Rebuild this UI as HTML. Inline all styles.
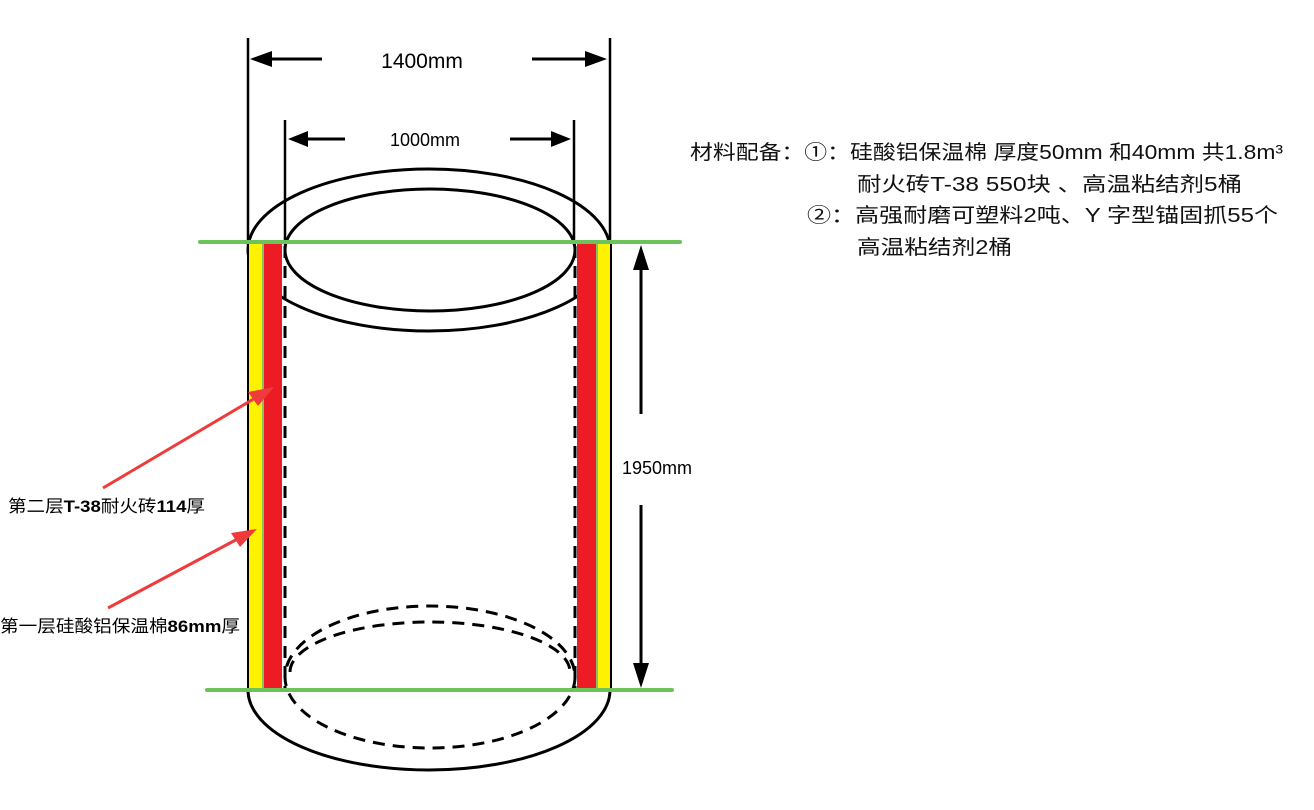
<!DOCTYPE html>
<html><head><meta charset="utf-8"><style>
html,body{margin:0;padding:0;background:#fff;}
svg{display:block;}
text{font-family:"Liberation Sans","Noto Sans CJK SC",sans-serif;}
</style></head><body>
<svg width="1314" height="810" viewBox="0 0 1314 810" xmlns="http://www.w3.org/2000/svg">
<rect width="1314" height="810" fill="#fff"/>
<!-- top ellipses -->
<ellipse cx="429" cy="250" rx="181" ry="81" fill="none" stroke="#000" stroke-width="3"/>
<ellipse cx="430" cy="250" rx="145" ry="61" fill="none" stroke="#000" stroke-width="3"/>
<!-- bottom ellipses -->
<path d="M248,690 A181,80 0 0 0 610,690" fill="none" stroke="#000" stroke-width="3"/>
<ellipse cx="430" cy="677" rx="145" ry="71" fill="none" stroke="#000" stroke-width="3" stroke-dasharray="12,8"/>
<path d="M290,672 A140,50 0 0 1 570,672" fill="none" stroke="#000" stroke-width="3" stroke-dasharray="12,8"/>
<!-- vertical extension lines -->
<line x1="248" y1="38" x2="248" y2="245" stroke="#000" stroke-width="2.5"/>
<line x1="610" y1="38" x2="610" y2="245" stroke="#000" stroke-width="2.5"/>
<line x1="285" y1="120" x2="285" y2="245" stroke="#000" stroke-width="2.5"/>
<line x1="574" y1="120" x2="574" y2="245" stroke="#000" stroke-width="2.5"/>
<!-- walls -->
<rect x="247" y="242" width="2.5" height="448" fill="#000"/>
<rect x="249" y="242" width="13" height="448" fill="#fff200"/>
<rect x="262" y="242" width="2" height="448" fill="#8dc060"/>
<rect x="264" y="242" width="18" height="448" fill="#ed1c24"/>
<rect x="577" y="242" width="19" height="448" fill="#ed1c24"/>
<rect x="596" y="242" width="2" height="448" fill="#8dc060"/>
<rect x="598" y="242" width="12" height="448" fill="#fff200"/>
<rect x="610" y="242" width="2" height="448" fill="#000"/>
<line x1="285" y1="246" x2="285" y2="690" stroke="#000" stroke-width="3" stroke-dasharray="12,8"/>
<line x1="575" y1="246" x2="575" y2="690" stroke="#000" stroke-width="3" stroke-dasharray="12,8"/>
<!-- green lines -->
<line x1="200" y1="242" x2="680" y2="242" stroke="#6cc35c" stroke-width="4" stroke-linecap="round"/>
<line x1="207" y1="690" x2="672" y2="690" stroke="#6cc35c" stroke-width="4" stroke-linecap="round"/>
<!-- 1400 dim -->
<line x1="265" y1="59" x2="322" y2="59" stroke="#000" stroke-width="3"/>
<polygon points="250,59 272,51 272,67" fill="#000"/>
<line x1="532" y1="59" x2="592" y2="59" stroke="#000" stroke-width="3"/>
<polygon points="607,59 585,51 585,67" fill="#000"/>
<text x="422" y="68" font-size="21" text-anchor="middle">1400mm</text>
<!-- 1000 dim -->
<line x1="300" y1="139" x2="345" y2="139" stroke="#000" stroke-width="3"/>
<polygon points="288,139 308,131 308,147" fill="#000"/>
<line x1="510" y1="139" x2="558" y2="139" stroke="#000" stroke-width="3"/>
<polygon points="571,139 551,131 551,147" fill="#000"/>
<text x="425" y="146" font-size="18" text-anchor="middle">1000mm</text>
<!-- 1950 dim -->
<line x1="641" y1="262" x2="641" y2="414" stroke="#000" stroke-width="3"/>
<polygon points="641,245 633,270 649,270" fill="#000"/>
<line x1="641" y1="505" x2="641" y2="672" stroke="#000" stroke-width="3"/>
<polygon points="641,688 633,663 649,663" fill="#000"/>
<text x="657" y="474" font-size="18" text-anchor="middle">1950mm</text>
<!-- red arrows -->
<line x1="103" y1="488" x2="262" y2="394" stroke="#ef3b3b" stroke-width="3"/>
<polygon points="274,387 248,392 258,406" fill="#ef3b3b"/>
<line x1="108" y1="608" x2="245" y2="535" stroke="#ef3b3b" stroke-width="3"/>
<polygon points="257,529 231,533 240,547" fill="#ef3b3b"/>
<text x="8" y="512" font-size="17" textLength="197" lengthAdjust="spacingAndGlyphs">第二层<tspan font-weight="bold">T-38</tspan>耐火砖<tspan font-weight="bold">114</tspan>厚</text>
<text x="0" y="632" font-size="17" textLength="240" lengthAdjust="spacingAndGlyphs">第一层硅酸铝保温棉<tspan font-weight="bold">86mm</tspan>厚</text>
<!-- right text -->
<g font-size="20" fill="#111">
<text x="690" y="159" textLength="593" lengthAdjust="spacingAndGlyphs">材料配备：①：硅酸铝保温棉 厚度50mm 和40mm 共1.8m³</text>
<text x="857" y="191" textLength="385" lengthAdjust="spacingAndGlyphs">耐火砖T-38 550块 、高温粘结剂5桶</text>
<text x="807" y="222" textLength="471" lengthAdjust="spacingAndGlyphs">②：高强耐磨可塑料2吨、Y 字型锚固抓55个</text>
<text x="857" y="254" textLength="155" lengthAdjust="spacingAndGlyphs">高温粘结剂2桶</text>
</g>
</svg>
</body></html>
